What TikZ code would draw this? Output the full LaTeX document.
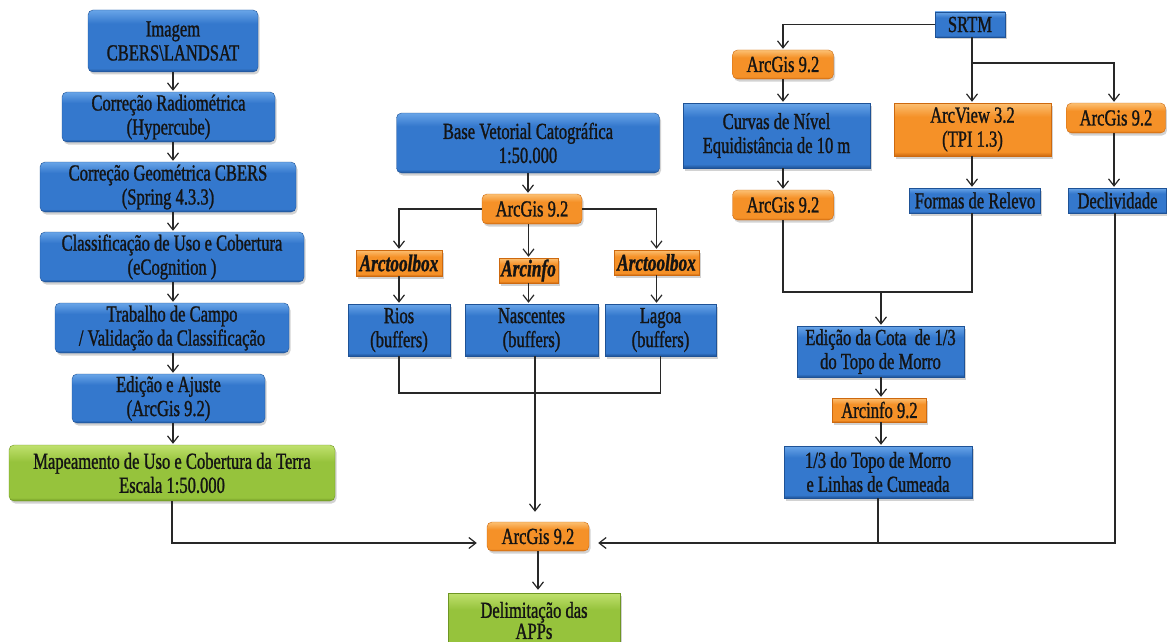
\documentclass[tikz,border=0pt]{standalone}
\usepackage{fontspec}
\setmainfont[FakeStretch=0.72,FakeBold=1.1]{Liberation Serif}
\usetikzlibrary{arrows.meta,shadows,calc}
\definecolor{bmain}{RGB}{52,120,205}
\definecolor{blight}{RGB}{105,165,232}
\definecolor{bdark}{RGB}{30,82,150}
\definecolor{omain}{RGB}{245,145,40}
\definecolor{olight}{RGB}{252,192,115}
\definecolor{odark}{RGB}{205,105,15}
\definecolor{gmain}{RGB}{150,195,60}
\definecolor{glight}{RGB}{192,225,110}
\definecolor{gdark}{RGB}{110,150,35}
\definecolor{linec}{RGB}{40,40,40}
\definecolor{txt}{RGB}{20,20,20}
\pgfdeclareverticalshading{bshade}{100bp}{color(0bp)=(bdark); color(25bp)=(bdark); color(28bp)=(bmain); color(64bp)=(bmain); color(75bp)=(blight); color(100bp)=(blight)}
\pgfdeclareverticalshading{oshade}{100bp}{color(0bp)=(odark); color(25bp)=(odark); color(29bp)=(omain); color(62bp)=(omain); color(75bp)=(olight); color(100bp)=(olight)}
\pgfdeclareverticalshading{gshade}{100bp}{color(0bp)=(gdark); color(25bp)=(gdark); color(28bp)=(gmain); color(60bp)=(gmain); color(75bp)=(glight); color(100bp)=(glight)}
\tikzset{
  boxbase/.style={align=center, inner sep=0pt, text=txt,
    font=\fontsize{23}{24}\selectfont,
    drop shadow={opacity=0.35, shadow xshift=1.5pt, shadow yshift=-2.5pt}},
  bluebox/.style={boxbase, shading=bshade, draw=bdark, line width=0.4pt},
  orbox/.style={boxbase, shading=oshade, draw=odark, line width=0.4pt},
  grbox/.style={boxbase, shading=gshade, draw=gdark, line width=0.4pt},
  rnd/.style={rounded corners=5pt},
  tool/.style={font=\fontsize{24}{24}\selectfont\bfseries\itshape},
  conn/.style={draw=linec, line width=1.2pt},
  arr/.style={conn, -{Straight Barb[length=7pt,width=11pt,line width=1.2pt]}, shorten >=1pt},
}
\begin{document}
\begin{tikzpicture}[x=1pt,y=-1pt]
\useasboundingbox (0,0) rectangle (1167,642);
\clip (0,0) rectangle (1167,642);
\fill[white] (0,0) rectangle (1167,642);

% left column
\coordinate (lc) at (173,0);
\node[bluebox,rnd,minimum width=170pt,minimum height=62pt] (img) at (173,41) {Imagem\\CBERS\textbackslash LANDSAT};
\node[bluebox,rnd,minimum width=213pt,minimum height=50pt] (rad) at (168.5,117) {Correção Radiométrica\\(Hypercube)};
\node[bluebox,rnd,minimum width=256pt,minimum height=50pt] (geo) at (168,187) {Correção Geométrica CBERS\\(Spring 4.3.3)};
\node[bluebox,rnd,minimum width=264pt,minimum height=50pt] (cls) at (172,257) {Classificação de Uso e Cobertura\\(eCognition )};
\node[bluebox,rnd,minimum width=234pt,minimum height=50pt] (camp) at (172,328) {Trabalho de Campo\\/ Validação da Classificação};
\node[bluebox,rnd,minimum width=193pt,minimum height=49pt] (edic) at (168.5,398.5) {Edição e Ajuste\\(ArcGis 9.2)};
\node[grbox,rnd,minimum width=326pt,minimum height=56pt] (map) at (172,473) {Mapeamento de Uso e Cobertura da Terra\\Escala 1:50.000};

\draw[arr] (lc |- img.south) -- (lc |- rad.north);
\draw[arr] (lc |- rad.south) -- (lc |- geo.north);
\draw[arr] (lc |- geo.south) -- (lc |- cls.north);
\draw[arr] (lc |- cls.south) -- (lc |- camp.north);
\draw[arr] (lc |- camp.south) -- (lc |- edic.north);
\draw[arr] (lc |- edic.south) -- (lc |- map.north);

% middle
\node[bluebox,rnd,minimum width=263pt,minimum height=60pt] (base) at (528,143) {Base Vetorial Catográfica\\1:50.000};
\node[orbox,rnd,minimum width=100pt,minimum height=30pt] (ag1) at (532,209) {ArcGis 9.2};
\node[orbox,tool,minimum width=86pt,minimum height=26pt] (atb1) at (399,263) {Arctoolbox};
\node[orbox,tool,minimum width=59pt,minimum height=25pt] (ainf) at (528.5,270.5) {Arcinfo};
\node[orbox,tool,minimum width=85pt,minimum height=25pt] (atb2) at (656.5,262.5) {Arctoolbox};
\node[bluebox,minimum width=102pt,minimum height=52pt] (rios) at (399,330) {Rios\\(buffers)};
\node[bluebox,minimum width=133pt,minimum height=52pt] (nasc) at (531.5,330) {Nascentes\\(buffers)};
\node[bluebox,minimum width=111pt,minimum height=52pt] (lagoa) at (660.5,330) {Lagoa\\(buffers)};

\draw[arr] (base.south) -- (base.south |- ag1.north);
\draw[arr] (ag1.west) -| (atb1.north);
\draw[arr] (ag1.east) -| (atb2.north);
\draw[arr] (ainf.north |- ag1.south) -- (ainf.north);
\draw[arr] (atb1.south) -- (atb1.south |- rios.north);
\draw[arr] (ainf.south) -- (ainf.south |- nasc.north);
\draw[arr] (atb2.south) -- (atb2.south |- lagoa.north);
\coordinate (jm) at (536,393);
\draw[conn] (rios.south) |- (jm) -| (lagoa.south);

% right part
\node[bluebox,minimum width=70pt,minimum height=25pt] (srtm) at (970,24.5) {SRTM};
\node[orbox,rnd,minimum width=101pt,minimum height=29pt] (ag2) at (783,64.5) {ArcGis 9.2};
\node[bluebox,minimum width=187pt,minimum height=65pt] (curv) at (776.5,135.5) {Curvas de Nível\\Equidistância de 10 m};
\node[orbox,rnd,minimum width=101pt,minimum height=30pt] (ag3) at (783,205) {ArcGis 9.2};
\node[orbox,minimum width=157pt,minimum height=53pt] (arcv) at (972.5,129.5) {ArcView 3.2\\(TPI 1.3)};
\node[orbox,rnd,minimum width=99pt,minimum height=30pt] (ag4) at (1116,118) {ArcGis 9.2};
\node[bluebox,minimum width=131pt,minimum height=25pt] (form) at (975,200.5) {Formas de Relevo};
\node[bluebox,minimum width=98pt,minimum height=25pt] (decl) at (1117.5,200.5) {Declividade};
\node[bluebox,minimum width=167pt,minimum height=51pt] (edc) at (880.5,351.5) {Edição da Cota~ de 1/3\\do Topo de Morro};
\node[orbox,minimum width=94pt,minimum height=24pt] (arcinf) at (879.5,410) {Arcinfo 9.2};
\node[bluebox,minimum width=188pt,minimum height=52pt] (topo) at (878,472) {1/3 do Topo de Morro\\e Linhas de Cumeada};

\coordinate (js) at (972,63);
\coordinate (jr) at (881,292);
\draw[arr] (srtm.west) -| (ag2.north);
\draw[arr] (ag2.south) -- (ag2.south |- curv.north);
\draw[arr] (ag2.south |- curv.south) -- (ag2.south |- ag3.north);
\draw[arr] (js |- srtm.south) -- (js |- arcv.north);
\draw[arr] (js) -| ([xshift=-2pt]ag4.north);
\draw[arr] (js |- arcv.south) -- (js |- form.north);
\draw[arr] ([xshift=-2pt]ag4.south) -- ([xshift=-2pt]ag4.south |- decl.north);
\draw[conn] (ag3.south) |- (jr) -| (js |- form.south);
\draw[arr] (jr) -- (jr |- edc.north);
\draw[arr] (edc.south -| jr) -- (arcinf.north -| jr);
\draw[arr] (arcinf.south -| jr) -- (topo.north -| jr);

% bottom
\node[orbox,rnd,minimum width=102pt,minimum height=29pt] (agf) at (538,536.5) {ArcGis 9.2};
\node[grbox,minimum width=172pt,minimum height=55pt,font=\fontsize{23}{20}\selectfont] (delim) at (534,620.5) {Delimitação das\\APPs};
\coordinate (agfL) at ($(agf.west)+(0,6.5)$);
\coordinate (agfR) at ($(agf.east)+(0,6.5)$);
\coordinate (jb) at (1115,0);

\draw[arr, shorten >=10pt] (map.south) |- (agfL);
\draw[arr, shorten >=9pt] (jb |- decl.south) |- (agfR);
\draw[conn] (topo.south) -- (topo.south |- agfR);
\draw[arr, shorten >=10pt] ([xshift=-3pt]agf.north |- nasc.south) -- ([xshift=-3pt]agf.north);
\draw[arr, shorten >=3pt] (agf.south) -- (agf.south |- delim.north);
\end{tikzpicture}
\end{document}
